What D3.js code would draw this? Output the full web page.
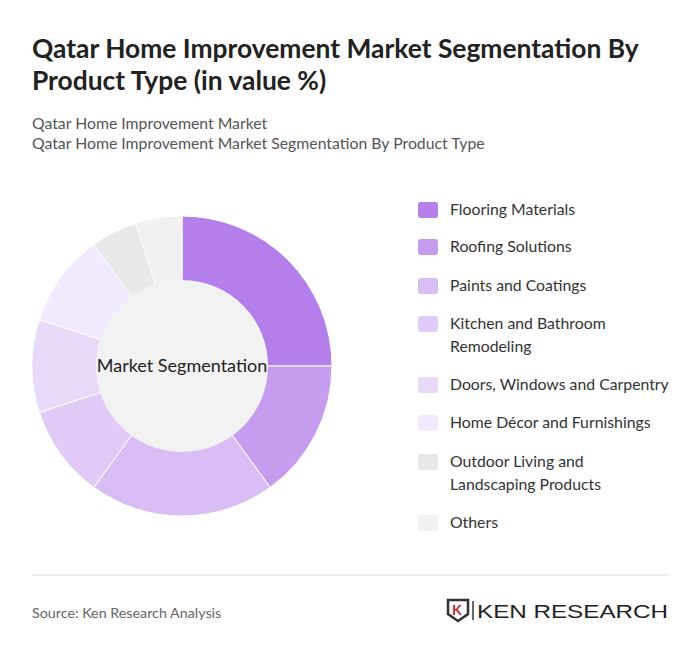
<!DOCTYPE html>
<html><head><meta charset="utf-8">
<script src="https://cdn.jsdelivr.net/npm/d3@7"></script>
<style>body{margin:0;background:#fff;font-family:Lato,sans-serif}</style>
</head><body><svg id="c" width="700" height="659"></svg>
<script>
const categories=["Flooring Materials","Roofing Solutions","Paints and Coatings","Kitchen and Bathroom Remodeling","Doors, Windows and Carpentry","Home Décor and Furnishings","Outdoor Living and Landscaping Products","Others"];
const values=[25,15,20,10,10,10,5,5];
const legendLines=[["Flooring Materials"],["Roofing Solutions"],["Paints and Coatings"],["Kitchen and Bathroom","Remodeling"],["Doors, Windows and Carpentry"],["Home Décor and Furnishings"],["Outdoor Living and","Landscaping Products"],["Others"]];
const colors=["#b47fea","#c69cef","#d9bef6","#e0cbf7","#e8d9f9","#f1eafc","#e8e8e8","#f1f1f1"];
const svg=d3.select("#c");
svg.append("text").attr("x",32).attr("y",58).attr("font-size",26.4).attr("font-weight",700).attr("fill","#222").text("Qatar Home Improvement Market Segmentation By");
svg.append("text").attr("x",32).attr("y",90).attr("font-size",26.4).attr("font-weight",700).attr("fill","#222").text("Product Type (in value %)");
svg.append("text").attr("x",32).attr("y",129).attr("font-size",15.8).attr("fill","#555").text("Qatar Home Improvement Market");
svg.append("text").attr("x",32).attr("y",149).attr("font-size",15.8).attr("fill","#555").text("Qatar Home Improvement Market Segmentation By Product Type");
const cx=182,cy=366;
const pie=d3.pie().sort(null).value(d=>d)(values);
const arc=d3.arc().innerRadius(0).outerRadius(150);
const g=svg.append("g").attr("transform",`translate(${cx},${cy})`);
g.selectAll("path").data(pie).join("path").attr("d",arc).attr("fill",(d,i)=>colors[i]).attr("stroke","#fff").attr("stroke-width",1);
g.append("circle").attr("r",86).attr("fill","#f2f2f2");
g.append("text").attr("text-anchor","middle").attr("dy",6).attr("font-size",18).attr("fill","#222").text("Market Segmentation");
const ly=[210,247,286,324,385,423,462,523];
legendLines.forEach((ls,i)=>{
 svg.append("rect").attr("x",418).attr("y",ly[i]-8).attr("width",20).attr("height",16).attr("rx",3).attr("fill",colors[i]);
 ls.forEach((t,j)=>svg.append("text").attr("x",450).attr("y",ly[i]+5+j*23).attr("font-size",15.8).attr("fill","#333").text(t));
});
svg.append("line").attr("x1",32).attr("x2",668).attr("y1",575).attr("y2",575).attr("stroke","#ddd");
svg.append("text").attr("x",32).attr("y",618).attr("font-size",14.3).attr("fill","#666").text("Source: Ken Research Analysis");
const lg=svg.append("g").attr("transform","translate(448,600)");
lg.append("path").attr("d","M0,0H20V14L10,21L0,14Z").attr("fill","none").attr("stroke","#333").attr("stroke-width",2.5);
lg.append("text").attr("x",4).attr("y",15).attr("font-size",14).attr("font-weight",700).attr("fill","#c0282d").text("K");
lg.append("line").attr("x1",25).attr("x2",25).attr("y1",1).attr("y2",20).attr("stroke","#333").attr("stroke-width",1.5);
lg.append("text").attr("x",29).attr("y",18).attr("font-size",19).attr("fill","#222").attr("font-family","Liberation Sans, Arial").attr("textLength",191).attr("lengthAdjust","spacingAndGlyphs").text("KEN RESEARCH");
</script></body></html>
